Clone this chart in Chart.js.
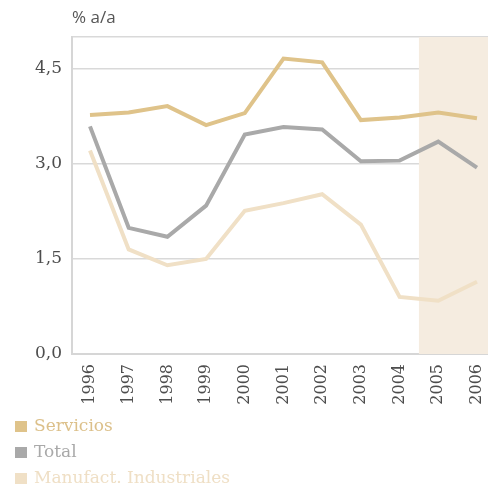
<!DOCTYPE html>
<html lang="es">
<head>
    <meta charset="UTF-8">
    <title>% a/a</title>
    <script src="https://cdn.jsdelivr.net/npm/chart.js"></script>
    <style>
        html, body { margin: 0; padding: 0; background: #fff; overflow: hidden; }
        .wrap { position: relative; width: 488px; height: 486px; }
        .unit {
            position: absolute; left: 72px; top: 5px;
            font-family: 'Open Sans', sans-serif; font-size: 17px; color: #555;
        }
        .legend { position: absolute; left: 15px; top: 412px; font-family: 'DejaVu Serif', serif; font-size: 17px; }
        .legend div { height: 26px; line-height: 26px; }
        .legend span.box { display: inline-block; width: 12px; height: 11px; margin-right: 7px; vertical-align: -1px; }
    </style>
</head>
<body>
<div class="wrap">
    <canvas id="chart" width="488" height="486"></canvas>
    <div class="unit">% a/a</div>
    <div class="legend" id="legend"></div>
</div>
<script>
    // data
    const years = [1996, 1997, 1998, 1999, 2000, 2001, 2002, 2003, 2004, 2005, 2006];
    const servicios = [3.77, 3.81, 3.91, 3.61, 3.80, 4.66, 4.60, 3.69, 3.73, 3.81, 3.72];
    const total = [3.59, 1.99, 1.85, 2.34, 3.46, 3.58, 3.54, 3.04, 3.05, 3.35, 2.94];
    const manufact = [3.21, 1.65, 1.40, 1.50, 2.26, 2.38, 2.52, 2.04, 0.90, 0.84, 1.14];
    const yTicks = [0, 1.5, 3, 4.5];
    const forecastFrom = 2004.5;

    const series = [
        { label: 'Servicios', data: servicios, color: '#dfc38a', text: '#dcc08a' },
        { label: 'Total', data: total, color: '#a9a9a9', text: '#a9a9a9' },
        { label: 'Manufact. Industriales', data: manufact, color: '#f0e0c6', text: '#efdfc5' }
    ];

    const shade = {
        id: 'shade',
        beforeDatasetsDraw(chart) {
            const { ctx, chartArea, scales } = chart;
            const x0 = scales.x.getPixelForValue(forecastFrom);
            ctx.save();
            ctx.fillStyle = '#f5ece0';
            ctx.fillRect(x0, chartArea.top, chartArea.right - x0, chartArea.bottom - chartArea.top);
            ctx.restore();
        }
    };

    new Chart(document.getElementById('chart'), {
        type: 'line',
        data: {
            datasets: series.map(s => ({
                label: s.label,
                data: years.map((y, i) => ({ x: y, y: s.data[i] })),
                borderColor: s.color,
                backgroundColor: s.color,
                borderWidth: 4,
                pointRadius: 0,
                tension: 0
            }))
        },
        options: {
            responsive: false,
            animation: false,
            layout: { padding: { top: 37, right: 0, bottom: 0, left: 0 } },
            plugins: { legend: { display: false }, tooltip: { enabled: false } },
            scales: {
                x: {
                    type: 'linear',
                    min: 1995.535,
                    max: 2006.285,
                    afterBuildTicks(scale) { scale.ticks = years.map(v => ({ value: v })); },
                    afterFit(scale) {
                        scale.height = 132;
                        scale.paddingLeft = 0;
                        scale.paddingRight = 0;
                    },
                    grid: { display: false, drawTicks: false },
                    border: { color: '#d6d6d6', width: 2 },
                    ticks: {
                        minRotation: 90, maxRotation: 90, padding: 10,
                        color: '#4d4d4d',
                        font: { family: 'DejaVu Serif', size: 16 },
                        callback: v => String(v)
                    }
                },
                y: {
                    min: 0,
                    max: 5,
                    afterBuildTicks(scale) { scale.ticks = yTicks.concat([5]).map(v => ({ value: v })); },
                    afterFit(scale) { scale.width = 72; },
                    grid: { color: '#d9d9d9', lineWidth: 1.5, drawTicks: false },
                    border: { color: '#d6d6d6', width: 2 },
                    ticks: {
                        padding: 10,
                        color: '#4d4d4d',
                        font: { family: 'DejaVu Serif', size: 17 },
                        callback: v => v === 5 ? '' : v.toFixed(1).replace('.', ',')
                    }
                }
            }
        },
        plugins: [shade]
    });

    document.getElementById('legend').innerHTML = series.map(s =>
        `<div style="color:${s.text}"><span class="box" style="background:${s.color}"></span>${s.label}</div>`
    ).join('');
</script>
</body>
</html>
